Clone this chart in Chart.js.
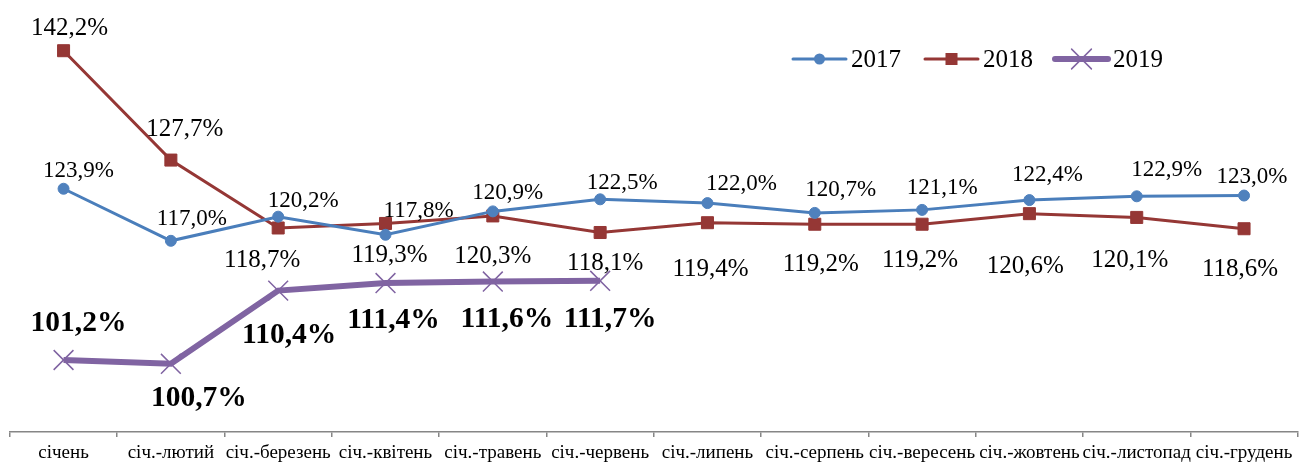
<!DOCTYPE html>
<html>
<head>
<meta charset="utf-8">
<script src="https://cdn.jsdelivr.net/npm/chart.js@4.4.1/dist/chart.umd.min.js"></script>
<style>
  html, body { margin: 0; padding: 0; background: #fff; }
  #wrap { width: 1309px; height: 462px; position: relative; }
</style>
</head>
<body>
<div id="wrap"><canvas id="indexChart"></canvas></div>
<script>
const months = ['січень', 'січ.-лютий', 'січ.-березень', 'січ.-квітень', 'січ.-травень', 'січ.-червень',
    'січ.-липень', 'січ.-серпень', 'січ.-вересень', 'січ.-жовтень', 'січ.-листопад', 'січ.-грудень'];
const values2017 = [123.9, 117.0, 120.2, 117.8, 120.9, 122.5, 122.0, 120.7, 121.1, 122.4, 122.9, 123.0];
const values2018 = [142.2, 127.7, 118.7, 119.3, 120.3, 118.1, 119.4, 119.2, 119.2, 120.6, 120.1, 118.6];
const values2019 = [101.2, 100.7, 110.4, 111.4, 111.6, 111.7];
const seriesNames = ['2017', '2018', '2019'];

const serif = '"Liberation Serif", "Times New Roman", serif';
const fmt = v => v.toFixed(1).replace('.', ',') + '%';

// label placement relative to each point (dx, dy), as in the original sheet
const shift2017 = [[15, -18], [21, -22], [25, -16], [33, -24], [15, -19], [22, -17],
    [34, -20], [26, -23], [20, -22], [18, -26], [30, -27], [8, -19]];
const shift2018 = [[6, -23], [14, -31], [-16, 32], [4, 31], [0, 40], [5, 30],
    [3, 46], [6, 40], [-2, 36], [-4, 52], [-7, 43], [-4, 40]];
const shift2019 = [[15, -37], [28, 34], [11, 44], [8, 37], [14, 37], [10, 38]];

// value labels next to the points
const pointLabels = {
    id: 'pointLabels',
    afterDatasetsDraw(chart) {
        const ctx = chart.ctx;
        chart.data.datasets.forEach((ds, di) => {
            const meta = chart.getDatasetMeta(di);
            meta.data.forEach((pt, i) => {
                const v = ds.data[i];
                if (v == null) return;
                const off = ds.labelShift[i];
                ctx.save();
                ctx.font = ds.labelFont;
                ctx.fillStyle = '#000';
                ctx.textAlign = 'center';
                ctx.textBaseline = 'middle';
                ctx.fillText(fmt(v), pt.x + off[0], pt.y + off[1] + 0.5);
                ctx.restore();
            });
        });
    }
};

function drawMarker(ctx, ds, x, y) {
    const r = ds.pointRadius;
    ctx.fillStyle = ds.pointBackgroundColor;
    ctx.strokeStyle = ds.pointBorderColor;
    ctx.lineWidth = ds.pointBorderWidth;
    ctx.beginPath();
    if (ds.pointStyle === 'circle') {
        ctx.arc(x, y, r, 0, Math.PI * 2);
        ctx.fill();
    } else if (ds.pointStyle === 'rect') {
        const s = r * Math.SQRT1_2;
        ctx.rect(x - s, y - s, 2 * s, 2 * s);
        ctx.fill();
    } else {
        const s = r * Math.SQRT1_2;
        ctx.moveTo(x - s, y - s); ctx.lineTo(x + s, y + s);
        ctx.moveTo(x - s, y + s); ctx.lineTo(x + s, y - s);
        ctx.stroke();
    }
}

// legend in the top right corner
const legendBox = {
    id: 'legendBox',
    afterDraw(chart) {
        const ctx = chart.ctx;
        const starts = [793, 925, 1055];
        const y = 59;
        chart.data.datasets.forEach((ds, di) => {
            const x0 = starts[di];
            ctx.save();
            ctx.strokeStyle = ds.borderColor;
            ctx.lineWidth = ds.borderWidth;
            ctx.lineCap = 'round';
            ctx.beginPath();
            ctx.moveTo(x0, y);
            ctx.lineTo(x0 + 53, y);
            ctx.stroke();
            drawMarker(ctx, ds, x0 + 26.5, y);
            ctx.font = '25px ' + serif;
            ctx.fillStyle = '#000';
            ctx.textAlign = 'left';
            ctx.textBaseline = 'middle';
            ctx.fillText(ds.label, x0 + 58, y + 1);
            ctx.restore();
        });
    }
};

const data = {
    labels: months,
    datasets: [{
        label: seriesNames[0],
        data: values2017,
        borderColor: '#4A7EBB',
        borderWidth: 3,
        pointStyle: 'circle',
        pointRadius: 5.5,
        pointBackgroundColor: '#4F81BD',
        pointBorderColor: '#4F81BD',
        pointBorderWidth: 1,
        labelFont: '23px ' + serif,
        labelShift: shift2017
    }, {
        label: seriesNames[1],
        data: values2018,
        borderColor: '#953735',
        borderWidth: 3,
        pointStyle: 'rect',
        pointRadius: 8.5,
        pointBackgroundColor: '#953735',
        pointBorderColor: '#953735',
        pointBorderWidth: 1,
        labelFont: '25px ' + serif,
        labelShift: shift2018
    }, {
        label: seriesNames[2],
        data: values2019,
        borderColor: '#8064A2',
        borderWidth: 6,
        pointStyle: 'crossRot',
        pointRadius: 14,
        pointBackgroundColor: '#8064A2',
        pointBorderColor: '#8064A2',
        pointBorderWidth: 1.5,
        labelFont: 'bold 29.5px ' + serif,
        labelShift: shift2019
    }]
};

const config = {
    type: 'line',
    data: data,
    options: {
        responsive: true,
        maintainAspectRatio: false,
        animation: false,
        events: [],
        layout: {
            autoPadding: false,
            padding: { top: 10, left: 9.9, right: 11.3, bottom: 0 }
        },
        elements: {
            line: { tension: 0 }
        },
        scales: {
            x: {
                offset: true,
                grid: {
                    display: true,
                    offset: true,
                    drawOnChartArea: false,
                    drawTicks: true,
                    tickLength: 5,
                    color: '#868686',
                    lineWidth: 1.5
                },
                border: {
                    display: true,
                    color: '#868686',
                    width: 1.5
                },
                ticks: {
                    color: '#000',
                    autoSkip: false,
                    maxRotation: 0,
                    minRotation: 0,
                    padding: 5,
                    font: { family: serif, size: 19 }
                },
                afterFit(scale) { scale.height = 30; }
            },
            y: {
                display: false,
                min: 91.656,
                max: 147.595
            }
        },
        plugins: {
            legend: { display: false },
            tooltip: { enabled: false }
        }
    },
    plugins: [pointLabels, legendBox]
};

const ctx = document.getElementById('indexChart').getContext('2d');
new Chart(ctx, config);
</script>
</body>
</html>
